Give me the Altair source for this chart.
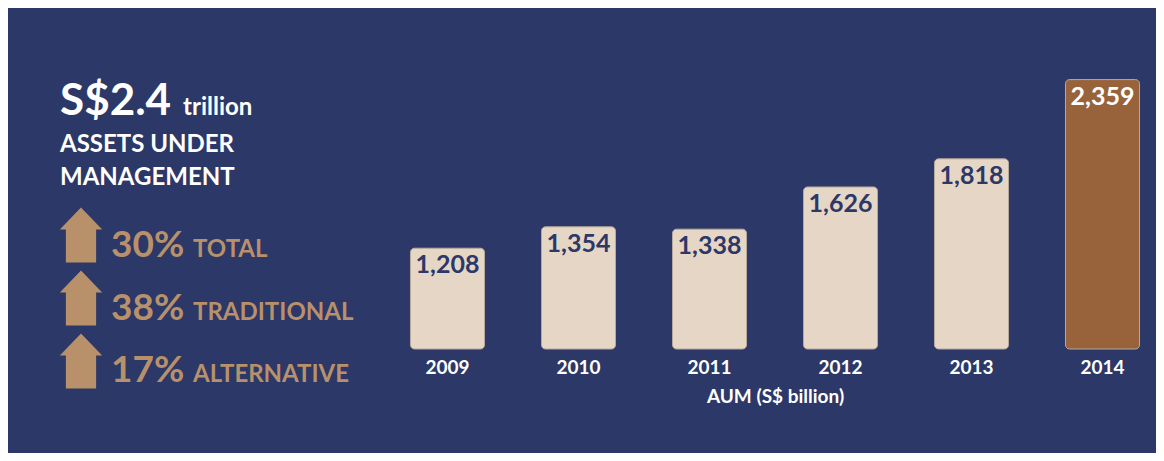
import altair as alt
import pandas as pd

# ---- data ----
years = ["2009", "2010", "2011", "2012", "2013", "2014"]
aum = [1208, 1354, 1338, 1626, 1818, 2359]
highlight = ["past", "past", "past", "past", "past", "latest"]

headline_value = "S$2.4"
headline_unit = "trillion"
headline_lines = ["ASSETS UNDER", "MANAGEMENT"]
growth_pct = ["30%", "38%", "17%"]
growth_label = ["TOTAL", "TRADITIONAL", "ALTERNATIVE"]

NAVY = "#2C3867"
LIGHT = "#E6D6C6"
BROWN = "#98633A"
TAN = "#B8916B"
FONT = "Lato"

df = pd.DataFrame({"year": years, "aum": aum, "kind": highlight})
df["label"] = [f"{v:,}" for v in aum]

x = alt.X("year:N", sort=years,
          scale=alt.Scale(paddingInner=0.435, paddingOuter=0.08),
          axis=alt.Axis(title="AUM (S$ billion)", labelAngle=0, domain=False, ticks=False,
                        labelColor="white", labelFont=FONT, labelFontSize=19,
                        labelFontWeight="bold", labelPadding=9,
                        titleColor="white", titleFont=FONT, titleFontSize=19,
                        titleFontWeight="bold", titlePadding=10))
yscale = alt.Scale(domain=[520, 2520], zero=False)

bars = alt.Chart(df).mark_bar(cornerRadius=4, stroke="#B9A99B", strokeWidth=1).encode(
    x=x,
    y=alt.Y("aum:Q", scale=yscale, axis=None),
    y2=alt.datum(520),
    color=alt.Color("kind:N", scale=alt.Scale(domain=["past", "latest"], range=[LIGHT, BROWN]),
                    legend=None),
)

values = alt.Chart(df).mark_text(baseline="top", dy=5, font=FONT, fontSize=25,
                                 fontWeight="bold").encode(
    x=alt.X("year:N", sort=years),
    y=alt.Y("aum:Q", scale=yscale),
    text="label:N",
    color=alt.condition(alt.datum.kind == "latest", alt.value("white"), alt.value(NAVY)),
)

# ---- left-side annotation panel ----
ann = pd.DataFrame({"t": [0]})

def txt(text, xp, yp, size, color):
    return alt.Chart(ann).mark_text(align="left", baseline="alphabetic", font=FONT,
                                    fontSize=size, fontWeight="bold", color=color).encode(
        x=alt.value(xp), y=alt.value(yp), text=alt.value(text))

layers = [
    txt(headline_value, -340, 59, 44, "white"),
    txt(headline_unit, -217, 59, 24, "white"),
    txt(headline_lines[0], -340, 96, 24, "white"),
    txt(headline_lines[1], -340, 129, 24, "white"),
]
arrow_y = [179, 242, 305]
base_y = [201, 264, 326]
arrow_path = "M0,-1 L0.77,-0.2 L0.55,-0.2 L0.55,1 L-0.55,1 L-0.55,-0.2 L-0.77,-0.2 Z"
for i in range(3):
    layers.append(alt.Chart(ann).mark_point(shape=arrow_path, filled=True, opacity=1,
                                            color=TAN, size=3025, strokeWidth=0).encode(
        x=alt.value(-319), y=alt.value(arrow_y[i])))
    layers.append(txt(growth_pct[i], -289, base_y[i], 37, TAN))
    layers.append(txt(growth_label[i], -207, base_y[i], 24, TAN))

chart = alt.layer(bars, values, *layers).properties(
    width=750, height=293,
    autosize=alt.AutoSizeParams(type="none"),
    padding={"left": 392, "top": 48, "right": 6, "bottom": 104},
    background=NAVY,
).configure_view(stroke=None)

chart.save("out.html", embed_options={"renderer": "svg", "actions": False})
